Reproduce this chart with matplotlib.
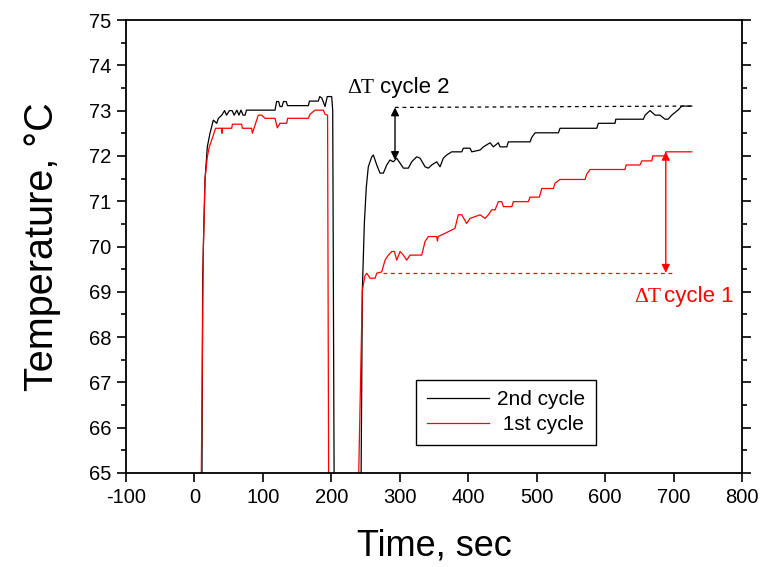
import numpy as np
import matplotlib
matplotlib.use('Agg')
from matplotlib import pyplot as plt
from matplotlib.ticker import MultipleLocator

plt.rcParams['font.family'] = ['Liberation Sans', 'DejaVu Sans']
plt.rcParams['axes.unicode_minus'] = False

# 2nd cycle (black)
t2 = [9.5, 11, 12, 15.4, 18.8, 22.7, 27.6, 32.5, 35, 40, 44, 47, 51, 55, 58, 62, 65, 68, 71, 74,
      76, 117.7, 120, 123, 125, 128, 130, 134, 136, 166.4, 168, 181, 183, 186, 190.8, 194, 200.5,
      202, 204, 205, 242, 243.5, 245.3, 248.2, 251, 254, 259, 261.4, 266.3, 271.1, 276, 280.9,
      285.7, 290.6, 295.5, 300.4, 305.2, 312.5, 317.4, 324.7, 329.6, 336.9, 341.7, 346.6, 353.9,
      358.8, 363.6, 368.5, 375.8, 390.5, 392.9, 402.6, 405.1, 417.3, 422.2, 431.9, 436.7, 444,
      446.5, 456.3, 458.6, 490.3, 492.8, 497.6, 531.7, 534.1, 587.7, 590.1, 614.5, 615.5, 655.9,
      658.3, 665.6, 673, 680, 687.6, 692, 697.3, 707, 711.9, 726.5]
T2 = [62, 65, 69.3, 71.47, 72.2, 72.5, 72.79, 72.72, 72.83, 72.90, 73.0, 72.9, 73.0, 73.0, 72.9,
      73.01, 72.9, 73.01, 72.9, 72.9, 73.01, 73.01, 73.2, 73.2, 73.09, 73.09, 73.2, 73.2, 73.11,
      73.11, 73.21, 73.21, 73.31, 73.28, 73.09, 73.31, 73.31, 73.0, 65, 60, 60, 65, 69.04, 70.51,
      71.3, 71.76, 71.98, 72.02, 71.80, 71.62, 71.62, 71.80, 71.91, 71.87, 71.95, 71.84, 71.73,
      71.73, 71.87, 71.98, 71.95, 71.76, 71.73, 71.80, 71.87, 71.76, 71.95, 72.02, 72.09, 72.09,
      72.17, 72.17, 72.09, 72.13, 72.20, 72.29, 72.20, 72.29, 72.20, 72.20, 72.31, 72.31, 72.41,
      72.51, 72.51, 72.61, 72.61, 72.72, 72.72, 72.81, 72.81, 72.90, 73.0, 72.90, 72.90, 72.81,
      72.81, 72.90, 73.02, 73.10, 73.10]

# 1st cycle (red)
t1 = [9, 10, 13, 15.5, 18.8, 21.7, 25.2, 30, 31, 39.8, 40.2, 40.6, 54.4, 55.5, 69, 70, 83.6, 84.6,
      93.3, 98.2, 103.1, 117.7, 121.1, 125, 134.8, 136, 166.4, 168.9, 176.2, 188.3, 190.8, 194.5,
      196, 197, 239, 240, 245.3, 249, 251.7, 256.6, 263.9, 266.3, 273.6, 278.5, 283.3, 288.2,
      292.1, 295.5, 300.4, 305.2, 310.1, 315, 332, 336.9, 341.7, 353.9, 355, 356, 366, 380.6,
      385.5, 390.5, 397.7, 402.6, 417.3, 424.5, 429.4, 434.3, 439.2, 444, 448.9, 451.3, 463.6,
      465.9, 487.8, 490.3, 503.9, 507.4, 524.4, 526.8, 534.1, 570.7, 573.1, 578, 629.1, 630.6,
      651, 653.5, 668.1, 669.6, 687.6, 688.6, 726.5]
T1 = [62, 65, 70, 71.5, 71.98, 72.2, 72.35, 72.57, 72.61, 72.61, 72.5, 72.61, 72.61, 72.70, 72.70,
      72.61, 72.61, 72.50, 72.90, 72.90, 72.83, 72.83, 72.62, 72.72, 72.72, 72.83, 72.83, 72.92,
      73.01, 73.01, 72.92, 72.9, 65, 60, 60, 65, 69.04, 69.35, 69.41, 69.30, 69.30, 69.41, 69.44,
      69.70, 69.81, 69.89, 69.89, 69.70, 69.89, 69.81, 69.70, 69.81, 69.81, 70.11, 70.22, 70.22,
      70.12, 70.22, 70.29, 70.40, 70.70, 70.70, 70.51, 70.62, 70.70, 70.62, 70.70, 70.81, 70.81,
      70.99, 70.99, 70.88, 70.88, 70.99, 70.99, 71.09, 71.09, 71.28, 71.28, 71.40, 71.48, 71.48,
      71.60, 71.70, 71.70, 71.80, 71.80, 71.89, 71.89, 72.0, 72.0, 72.09, 72.09]

# delta T markers
dT2_x, dT2_top, dT2_bot, dT2_end = 293, 73.07, 71.91, 725
dT1_x, dT1_top, dT1_bot, dT1_start, dT1_end = 688.6, 72.09, 69.42, 276, 700

fig = plt.figure(figsize=(7.65, 5.67), dpi=100)
ax = fig.add_axes([0.1647, 0.1658, 0.8053, 0.7989])

ax.plot(t2, T2, color='black', lw=0.9, label='2nd cycle')
ax.plot(t1, T1, color='red', lw=0.9, label=' 1st cycle')

ax.plot([dT2_x, dT2_end], [dT2_top, dT2_top + 0.03], color='black', lw=0.9, ls=(0, (3, 3)))
ax.plot([dT1_start, dT1_end], [dT1_bot, dT1_bot], color='red', lw=0.9, ls=(0, (3, 3)))
ax.annotate('', xy=(dT2_x, dT2_bot), xytext=(dT2_x, dT2_top),
            arrowprops=dict(arrowstyle='<|-|>', color='black', lw=1, mutation_scale=12,
                            shrinkA=0, shrinkB=0))
ax.annotate('', xy=(dT1_x, dT1_bot), xytext=(dT1_x, dT1_top),
            arrowprops=dict(arrowstyle='<|-|>', color='red', lw=1, mutation_scale=12,
                            shrinkA=0, shrinkB=0))

ax.text(223, 73.38, 'ΔT', family='Liberation Serif', fontsize=15.5, va='baseline')
ax.text(270.5, 73.38, 'cycle 2', fontsize=16, va='baseline')
ax.text(642, 68.77, 'ΔT', family='Liberation Serif', fontsize=15.5, va='baseline', color='red')
ax.text(685.5, 68.77, 'cycle 1', fontsize=16, va='baseline', color='red')

ax.set_xlim(-100, 800)
ax.set_ylim(65, 75)
ax.xaxis.set_major_locator(MultipleLocator(100))
ax.yaxis.set_major_locator(MultipleLocator(1))
ax.yaxis.set_minor_locator(MultipleLocator(0.5))
ax.tick_params(axis='both', which='major', direction='out', length=6.5, width=1.2,
               labelsize=14.5, pad=4)
ax.tick_params(axis='y', which='minor', direction='out', length=3.5, width=1.2)
ax.tick_params(axis='y', which='both', right=True, labelright=False)
for s in ax.spines.values():
    s.set_linewidth(1.3)

ax.set_xlabel('Time, sec', fontsize=26, labelpad=16)
ax.set_ylabel('Temperature, °C', fontsize=28.5, labelpad=20)

leg = ax.legend(loc='lower left', bbox_to_anchor=(0.471, 0.062), fontsize=15,
                fancybox=False, framealpha=1, edgecolor='black', handlelength=3.0,
                borderpad=0.5, labelspacing=0.3, handletextpad=0.4, borderaxespad=0)
leg.get_frame().set_linewidth(1)

fig.savefig('out.png', dpi=100)
